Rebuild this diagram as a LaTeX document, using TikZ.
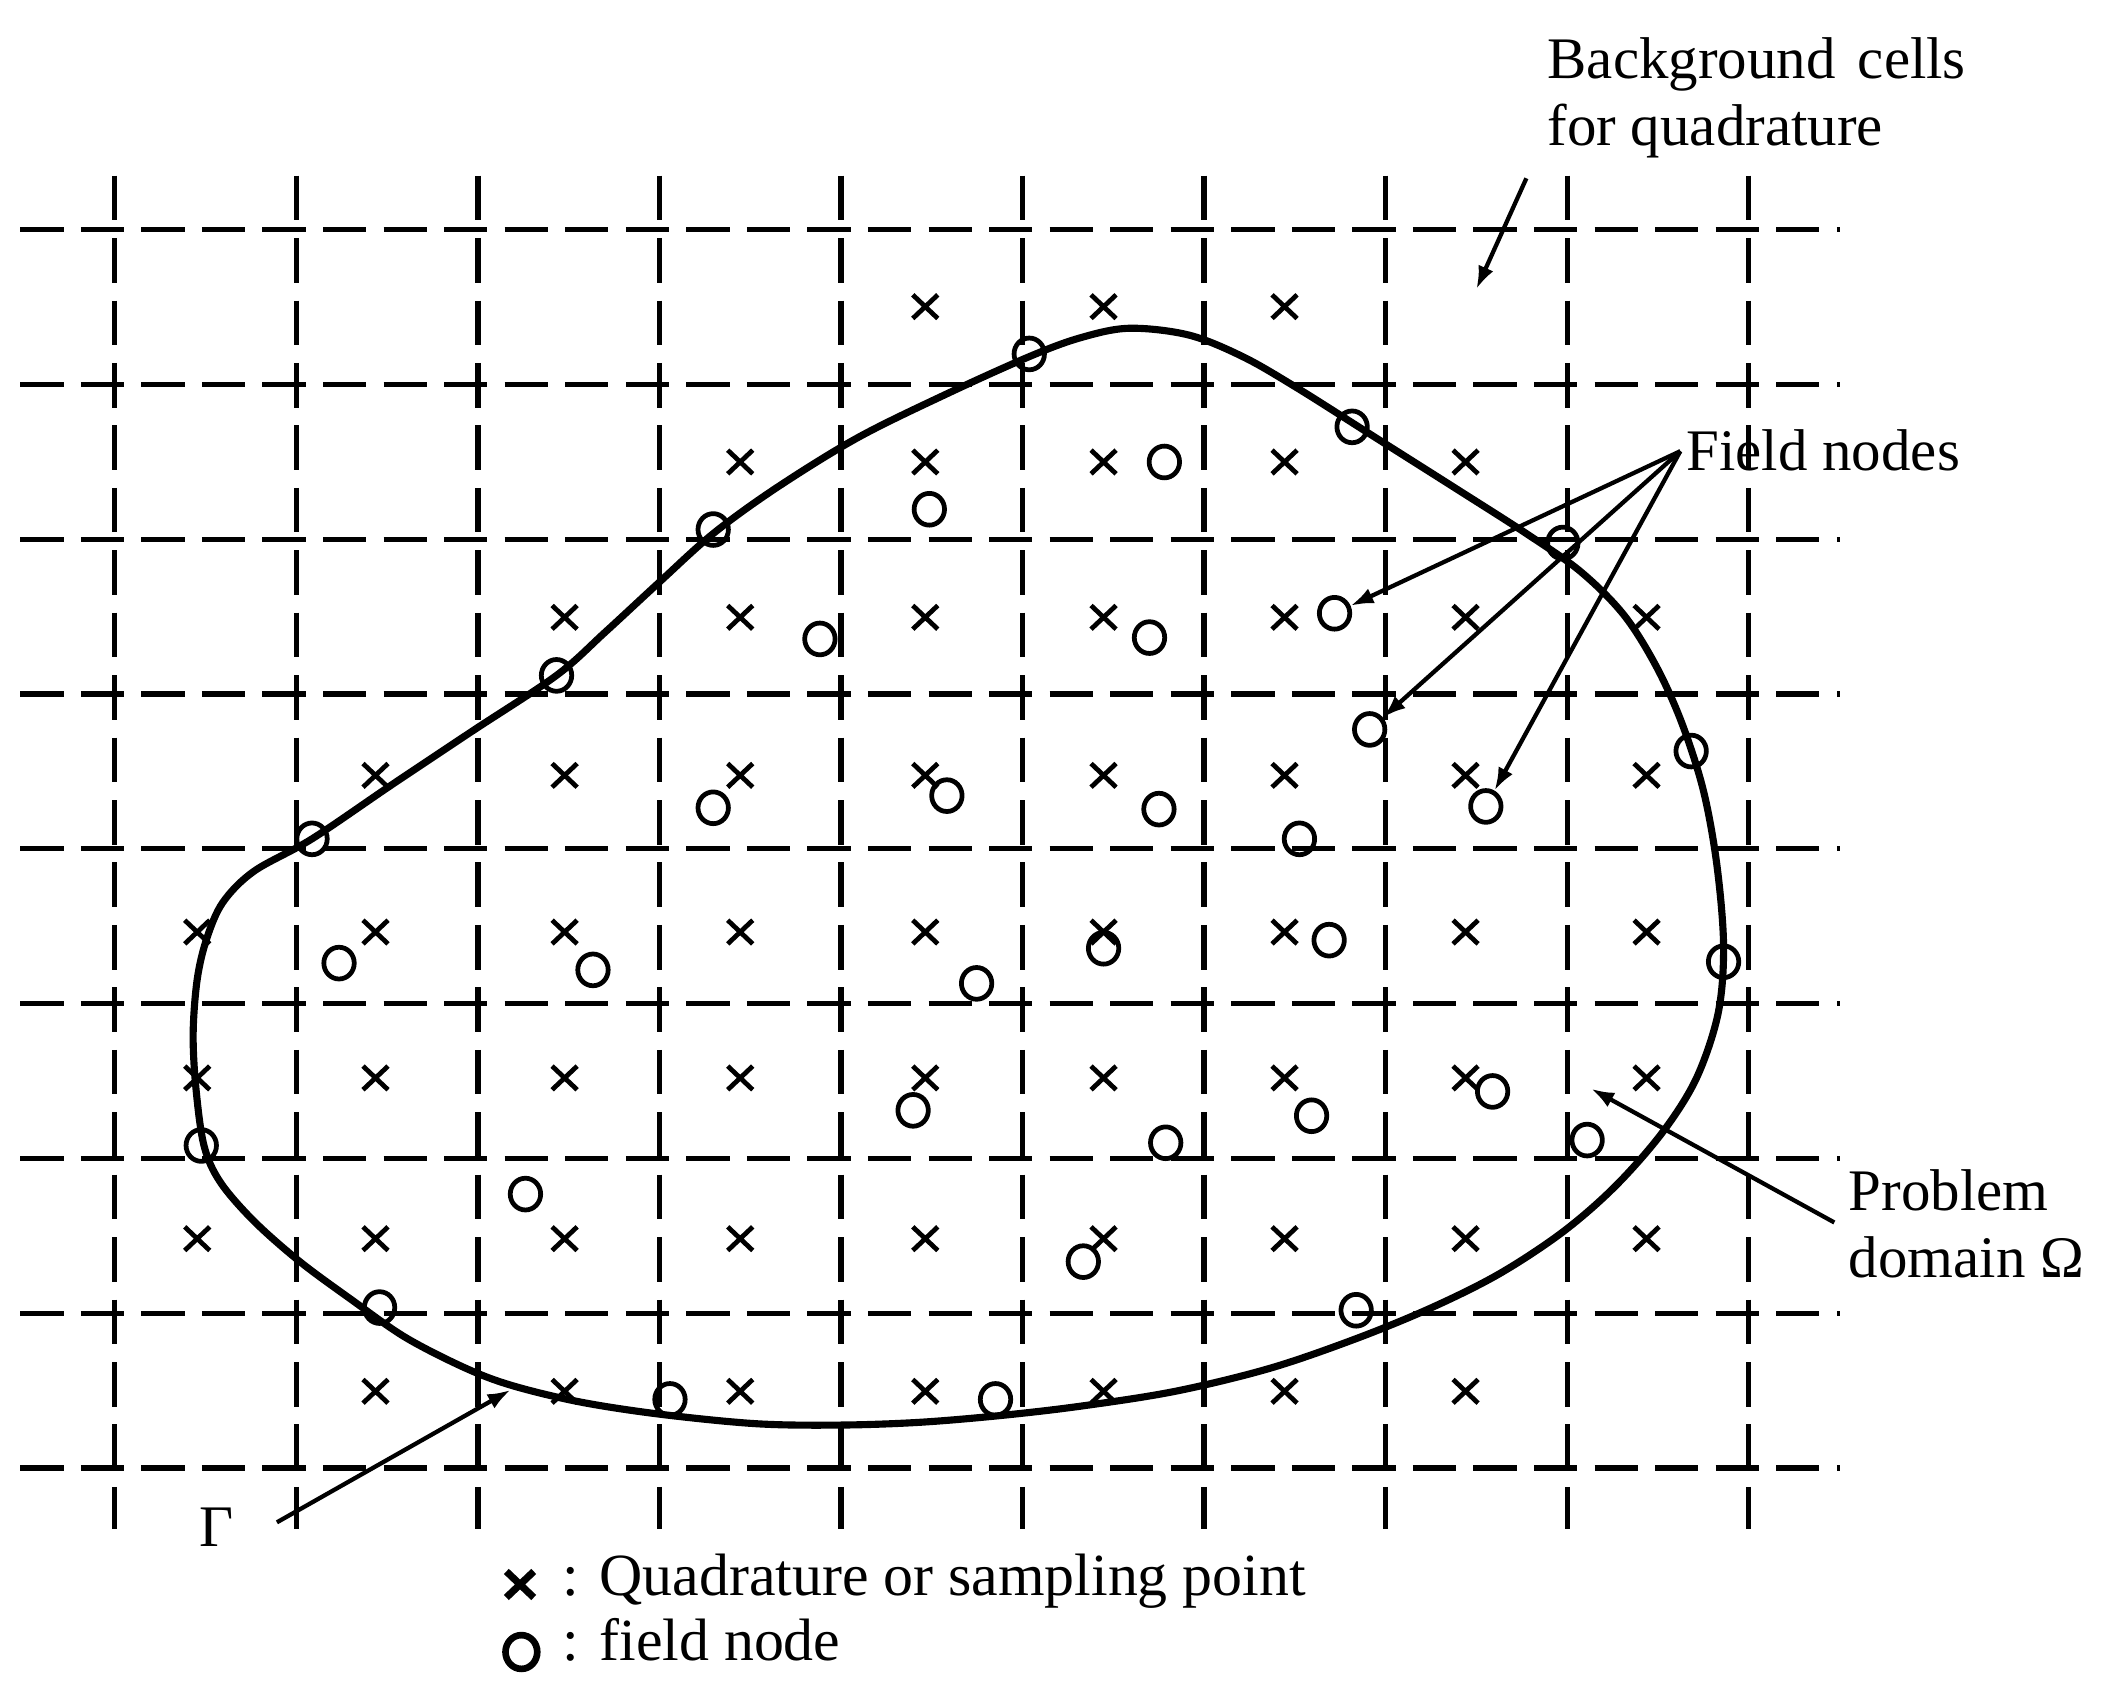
\documentclass[tikz,border=0pt]{standalone}
\usepackage{fontspec}
\setmainfont{Liberation Serif}
\usetikzlibrary{arrows.meta,shapes.misc,shapes.geometric}
\begin{document}
\begin{tikzpicture}[x=0.01cm,y=-0.01cm,
  gridh/.style={line width=1.1pt, dash pattern=on 0.32cm off 0.128cm},
  gridv/.style={line width=1.1pt, dash pattern=on 0.33cm off 0.132cm},
  bound/.style={line width=1.5pt},
  fnode/.style={ellipse, draw, line width=1pt, minimum width=0.225cm, minimum height=0.235cm, inner sep=0pt},
  qpt/.style={cross out, draw, line width=1pt, minimum width=0.15cm, minimum height=0.14cm, inner sep=0pt},
  ptr/.style={line width=0.9pt, -{Latex[length=0.17cm,width=0.12cm]}},
  lbl/.style={font=\fontsize{12.4}{14.8}\selectfont, inner sep=0pt, anchor=base west},
  leg/.style={font=\fontsize{12.6}{15}\selectfont, inner sep=0pt, anchor=base west}]
\useasboundingbox (0,0) rectangle (1568,1259);
% background grid
\foreach \y in {170,284.6,399.2,513.8,628.4,743,857.6,972.2,1086.8}
  \draw[gridh] (15,\y) -- (1362,\y);
\foreach \x in {85,219.4,353.8,488.2,622.6,757,891.4,1025.8,1160.2,1294.6}
  \draw[gridv] (\x,130) -- (\x,1132);
% boundary
\draw[bound] plot[smooth cycle, tension=0.55] coordinates {
 (836,243) (880,248) (920,264) (960,287) (1020,325) (1080,363) (1130,395)
 (1170,423) (1202,455) (1226,493) (1245,535) (1261,585) (1271,640) (1276,700)
 (1272,750) (1256,798) (1231,838) (1196,878) (1157,912) (1110,943) (1060,968)
 (1004,991) (940,1013) (870,1030) (800,1041) (740,1048) (680,1053) (621,1055)
 (560,1054) (489,1047) (430,1038) (380,1026) (345,1013) (300,990) (260,962)
 (222,934) (188,904) (163,875) (151,848) (145,805) (143,765) (146,725)
 (153,695) (165,668) (188,645) (231,621) (290,581) (350,541) (412,500)
 (448,468) (487,432) (528,395) (575,361) (635,324) (700,292) (762,264)
 (800,250)};
% quadrature points
\foreach \y/\xs in {227/{685,817,951},
  342/{548,685,817,951,1085},
  457/{418,548,685,817,951,1085,1219},
  574/{278,418,548,685,817,951,1085,1219},
  690/{146,278,418,548,685,817,951,1085,1219},
  798/{146,278,418,548,685,817,951,1085,1219},
  917/{146,278,418,548,685,817,951,1085,1219},
  1030/{278,418,548,685,817,951,1085}}
  {\foreach \x in \xs {\node[qpt] (q-\x-\y) at (\x,\y) {};}}
% field nodes on boundary
\foreach \p [count=\i] in {(762,262),(1001,316),(1157,402),(1252,556),(1276,712),(1004,970),
  (737,1036),(496,1036),(281,968),(149,848),(231,621),(412,500),(528,392)}
  \node[fnode] (b\i) at \p {};
% interior field nodes
\foreach \p [count=\i] in {(862,342),(688,377),(607,473),(851,472),(528,598),(701,589),
  (858,599),(962,621),(251,713),(439,718),(723,728),(817,702),(984,696),(676,822),
  (1105,808),(971,826),(863,846),(1175,844),(389,884),(802,934)}
  \node[fnode] (n\i) at \p {};
\node[fnode] (fa) at (988,454) {};
\node[fnode] (fb) at (1014,540) {};
\node[fnode] (fc) at (1100,597) {};
% labels
\node[lbl] (bg1) at (1145,58) {Background\hspace{0.38em}cells};
\node[lbl] (bg2) at (1145,108) {for quadrature};
\node[lbl] (fld) at (1248,348) {Field nodes};
\node[lbl] (pd1) at (1368,896) {Problem};
\node[lbl] (pd2) at (1368,946) {domain Ω};
\node[lbl] (gam) at (147,1145) {Γ};
% legend
\node[qpt, line width=1.5pt, minimum width=0.15cm, minimum height=0.14cm] (lx) at (385,1173) {};
\node[leg] (lt1) at (416,1181) {: Quadrature or sampling point};
\node[fnode, line width=1.4pt, minimum width=0.235cm, minimum height=0.25cm] (lo) at (386,1223) {};
\node[leg] (lt2) at (416,1229) {: field node};
% pointers
\coordinate (bgs) at (1130,132);
\coordinate (bge) at (1093,214);
\draw[ptr] (bgs) -- (bge);
\coordinate (fo) at (1244,334);
\draw[ptr] (fo) -- (fa);
\draw[ptr] (fo) -- (fb);
\draw[ptr] (fo) -- (fc);
\coordinate (pds) at (1358,905);
\coordinate (pde) at (1178,806);
\draw[ptr] (pds) -- (pde);
\coordinate (gs) at (205,1127);
\coordinate (ge) at (378,1029);
\draw[ptr] (gs) -- (ge);
\end{tikzpicture}
\end{document}
